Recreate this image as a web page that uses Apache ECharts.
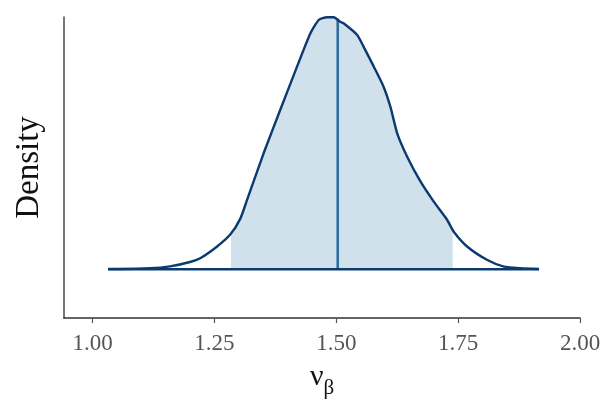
<!DOCTYPE html>
<html>
<head>
<meta charset="utf-8">
<script src="https://cdn.jsdelivr.net/npm/echarts@6/dist/echarts.min.js"></script>
<style>
html,body{margin:0;padding:0;background:#fff;}
#chart{width:604px;height:416px;}
</style>
</head>
<body>
<div id="chart"></div>
<script>
// Density curve (x = nu_beta, y = density)
var curveX = [1.032,1.118,1.159,1.200,1.221,1.255,1.2825,1.303,1.317,1.351,1.385,1.4195,1.447,1.464,1.481,1.4947,1.508,1.515,1.543,1.556,1.577,1.597,1.611,1.625,1.6455,1.673,1.700,1.7276,1.741,1.769,1.810,1.844,1.878,1.916];
var curveY = [0.003,0.014,0.040,0.100,0.152,0.309,0.475,0.690,0.949,1.588,2.181,2.774,3.231,3.413,3.450,3.450,3.390,3.368,3.208,3.048,2.774,2.500,2.226,1.862,1.542,1.199,0.926,0.675,0.515,0.309,0.127,0.036,0.014,0.003];
// Shaded interval bounds and curve height there
var intervalX = [1.284, 1.739];
var intervalY = [0.49, 0.54];
// Median (point estimate)
var medianX = 1.503;
var medianY = 3.43;
// Tick labels
var xTicks = [1.00, 1.25, 1.50, 1.75, 2.00];

var curve = curveX.map(function(x,i){return [x, curveY[i]];});
var fill = [[intervalX[0], intervalY[0]]];
curveX.forEach(function(x,i){ if (x > intervalX[0] && x < intervalX[1]) fill.push([x, curveY[i]]); });
fill.push([intervalX[1], intervalY[1]]);
var baseline = [[curveX[0],0],[curveX[curveX.length-1],0]];
var median = [[medianX,0],[medianX,medianY]];

var serif = '"Liberation Serif","DejaVu Serif",serif';
var chart = echarts.init(document.getElementById('chart'));
chart.setOption({
  animation:false,
  backgroundColor:'#fff',
  grid:{left:64,right:24,top:17,bottom:98,containLabel:false},
  xAxis:{
    type:'value', min:0.9415, max:2.0,
    axisLine:{show:true,onZero:false,lineStyle:{color:'#333',width:1.6}},
    axisTick:{show:true,customValues:xTicks,length:5,lineStyle:{color:'#555',width:1.2}},
    axisLabel:{customValues:xTicks,margin:14,color:'#555',fontFamily:serif,fontSize:23,
      formatter:function(v){return v.toFixed(2);}},
    splitLine:{show:false},
    name:'{a|ν}{b|β}', nameLocation:'middle', nameGap:38,
    nameTextStyle:{color:'#111',fontFamily:serif,
      rich:{a:{fontSize:30,fontFamily:serif,color:'#111'},b:{fontSize:21,fontFamily:serif,color:'#111',padding:[22,0,0,0]}}}
  },
  yAxis:{
    type:'value', min:-0.667, max:3.454,
    axisLine:{show:true,onZero:false,lineStyle:{color:'#555',width:1.6}},
    axisTick:{show:false}, axisLabel:{show:false}, splitLine:{show:false},
    name:'Density', nameLocation:'middle', nameGap:18, nameRotate:90,
    nameTextStyle:{color:'#111',fontFamily:serif,fontSize:33}
  },
  series:[
    {type:'line',data:fill,smooth:0.2,showSymbol:false,lineStyle:{width:0},
     areaStyle:{color:'#d1e1ec',opacity:1},z:1},
    {type:'line',data:median,showSymbol:false,lineStyle:{color:'#2f6ca3',width:2.6},z:2},
    {type:'line',data:baseline,showSymbol:false,lineStyle:{color:'#0a3a6e',width:2.6},z:3},
    {type:'line',data:curve,smooth:0.2,showSymbol:false,lineStyle:{color:'#0a3a6e',width:2.4},z:4}
  ]
});
</script>
</body>
</html>
